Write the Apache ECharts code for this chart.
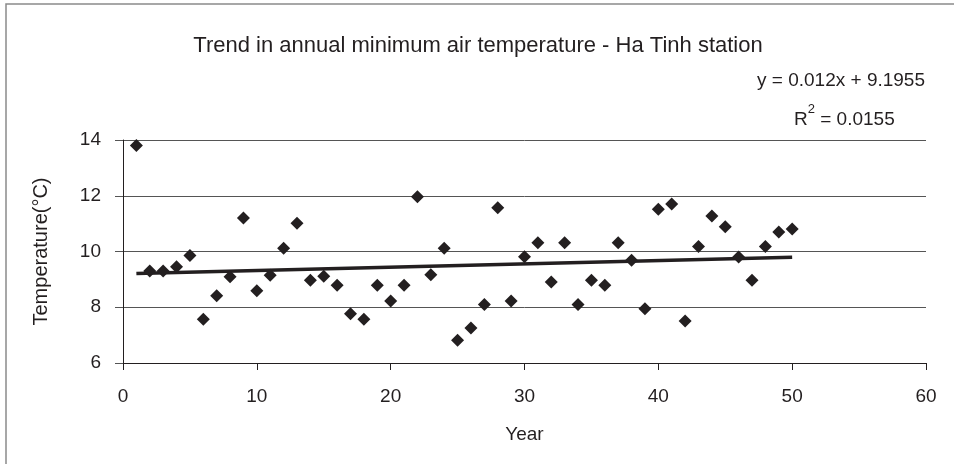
<!DOCTYPE html>
<html>
<head>
<meta charset="utf-8">
<script src="https://cdn.jsdelivr.net/npm/echarts@6/dist/echarts.min.js"></script>
<style>
html,body{margin:0;padding:0;background:#fff;}
#c{width:954px;height:464px;}
</style>
</head>
<body>
<div id="c"></div>
<script>
const years = [1,2,3,4,5,6,7,8,9,10,11,12,13,14,15,16,17,18,19,20,21,22,23,24,25,26,27,28,29,30,31,32,33,34,35,36,37,38,39,40,41,42,43,44,45,46,47,48,49,50];
const minTemp = [13.8,9.3,9.3,9.45,9.86,7.57,8.41,9.09,11.2,8.59,9.15,10.12,11.01,8.97,9.11,8.79,7.77,7.57,8.79,8.22,8.79,11.96,9.17,10.12,6.82,7.26,8.1,11.57,8.22,9.81,10.31,8.91,10.31,8.1,8.97,8.79,10.31,9.69,7.95,11.52,11.7,7.51,10.18,11.27,10.89,9.8,8.97,10.18,10.7,10.81];
const trendSlope = 0.012;
const trendIntercept = 9.1955;
const trendX = [1, 50];
const xTicks = [0,10,20,30,40,50,60];
const yTicks = [6,8,10,12,14];
const titleText = 'Trend in annual minimum air temperature - Ha Tinh station';
const eqText = 'y = 0.012x + 9.1955';
const r2Value = '0.0155';

const FONT = "'Liberation Sans', Arial, sans-serif";
const INK = '#231f20';

const chart = echarts.init(document.getElementById('c'));
chart.setOption({
  backgroundColor: '#fff',
  animation: false,
  title: {
    text: titleText,
    left: 473, top: 30, textAlign: 'center',
    textStyle: {fontFamily: FONT, fontSize: 22, fontWeight: 'normal', color: INK}
  },
  grid: {left: 123, right: 28, top: 140, bottom: 101},
  xAxis: {
    type: 'value', min: xTicks[0], max: xTicks[xTicks.length-1], interval: 10,
    name: 'Year', nameLocation: 'middle', nameGap: 62,
    nameTextStyle: {fontFamily: FONT, fontSize: 19, color: INK},
    axisLine: {show: true, lineStyle: {color: INK, width: 1}},
    axisTick: {show: true, inside: false, length: 7, lineStyle: {color: INK}},
    axisLabel: {fontFamily: FONT, fontSize: 19, color: INK, margin: 24},
    splitLine: {show: false}
  },
  yAxis: {
    type: 'value', min: yTicks[0], max: yTicks[yTicks.length-1], interval: 2,
    name: 'Temperature(°C)', nameLocation: 'middle', nameGap: 72, nameRotate: 90,
    nameTextStyle: {fontFamily: FONT, fontSize: 20, color: INK},
    axisLine: {show: true, lineStyle: {color: INK, width: 1}},
    axisTick: {show: true, inside: false, length: 8, lineStyle: {color: '#555'}},
    axisLabel: {fontFamily: FONT, fontSize: 19, color: INK, margin: 22},
    splitLine: {show: true, lineStyle: {color: '#555', width: 1}}
  },
  graphic: [
    {type: 'rect', shape: {x: 6, y: 4, width: 1000, height: 1000}, style: {fill: 'none', stroke: '#8a8a8a', lineWidth: 1.5}, silent: true, z: -10},
    {type: 'text', right: 29, top: 71, style: {text: eqText, fontFamily: FONT, fontSize: 19, fill: INK}},
    {type: 'text', left: 794, top: 103, style: {
      text: '{a|R}{s|2}{a| = ' + r2Value + '}',
      rich: {
        a: {fontFamily: FONT, fontSize: 19, fill: INK, color: INK, verticalAlign: 'bottom', lineHeight: 26},
        s: {fontFamily: FONT, fontSize: 13, fill: INK, color: INK, verticalAlign: 'top', lineHeight: 26, padding: [0,0,10,0]}
      }
    }}
  ],
  series: [
    {
      type: 'scatter', symbol: 'diamond', symbolSize: 13,
      itemStyle: {color: INK, opacity: 1},
      data: years.map((y, i) => [y, minTemp[i]]), z: 3
    },
    {
      type: 'line', symbol: 'none', lineStyle: {color: INK, width: 3.5},
      data: trendX.map(x => [x, trendIntercept + trendSlope * x]), z: 2
    }
  ]
});
</script>
</body>
</html>
